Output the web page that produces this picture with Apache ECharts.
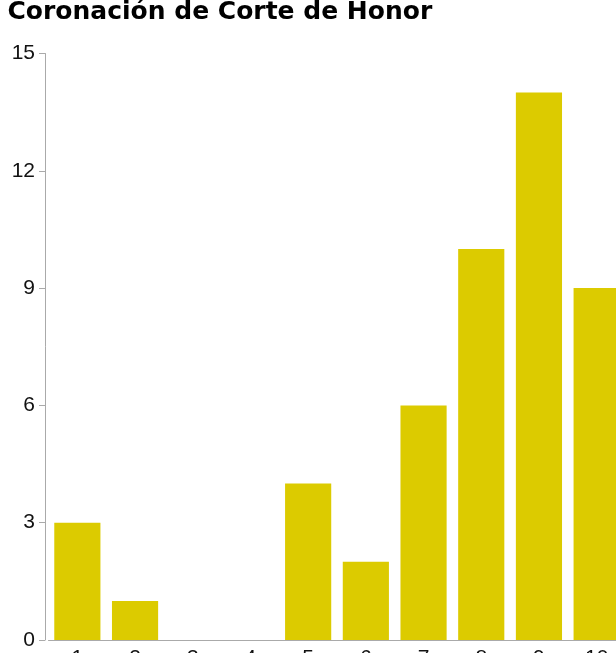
<!DOCTYPE html>
<html>
<head>
<meta charset="utf-8">
<script src="https://cdn.jsdelivr.net/npm/echarts@6/dist/echarts.min.js"></script>
<style>
html, body { margin: 0; padding: 0; overflow: hidden; background: #fff; width: 616px; height: 653px; }
#chart { width: 660px; height: 700px; }
</style>
</head>
<body>
<div id="chart"></div>
<script>
const titleText = "Coronación de Corte de Honor";
const categories = ["1", "2", "3", "4", "5", "6", "7", "8", "9", "10"];
const values = [3, 1, 0, 0, 4, 2, 6, 10, 14, 9];
const yTicks = [0, 3, 6, 9, 12, 15];

const chart = echarts.init(document.getElementById('chart'), null, { renderer: 'canvas' });
chart.setOption({
  animation: false,
  title: {
    text: titleText,
    left: 7.5,
    top: 0,
    padding: 0,
    textStyle: { fontFamily: '"DejaVu Sans", sans-serif', fontWeight: 'bold', fontSize: 25, color: '#000' }
  },
  grid: { left: 48.5, top: 53.5, width: 577, height: 586.5, containLabel: false },
  xAxis: {
    type: 'category',
    data: categories,
    axisLine: { lineStyle: { color: '#aaa', width: 1 } },
    axisTick: { alignWithLabel: true, length: 6, lineStyle: { color: '#aaa' } },
    axisLabel: { fontFamily: '"Liberation Sans", Arial, sans-serif', fontSize: 21, color: '#111', margin: 8 }
  },
  yAxis: {
    type: 'value',
    min: yTicks[0],
    max: yTicks[yTicks.length - 1],
    interval: 3,
    offset: 3.5,
    splitLine: { show: false },
    axisLine: { show: true, lineStyle: { color: '#aaa', width: 1 } },
    axisTick: { show: true, length: 6, lineStyle: { color: '#aaa' } },
    axisLabel: { fontFamily: '"Liberation Sans", Arial, sans-serif', fontSize: 21, color: '#111', margin: 10 }
  },
  series: [{
    type: 'bar',
    data: values,
    barCategoryGap: '20%',
    itemStyle: { color: '#dccb00' }
  }]
});
</script>
</body>
</html>
